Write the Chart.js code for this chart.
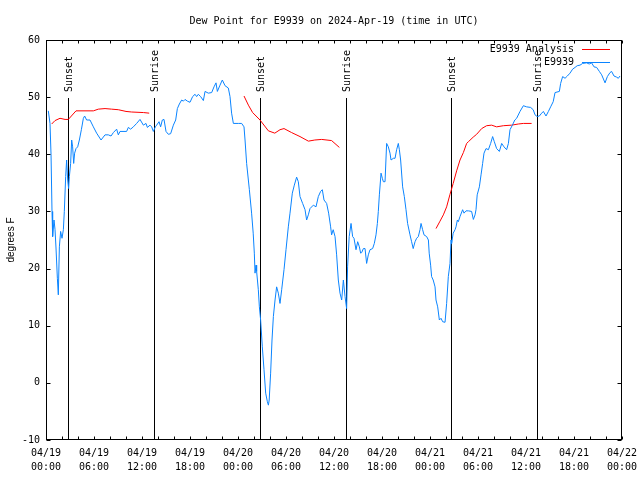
<!DOCTYPE html>
<html>
<head>
<meta charset="utf-8">
<script src="https://cdn.jsdelivr.net/npm/chart.js@4/dist/chart.umd.min.js"></script>
<style>html,body{margin:0;padding:0;background:#fff}</style>
</head>
<body>
<canvas id="chart" width="640" height="480"></canvas>
<script>
const MONO = 'DejaVu Sans Mono';

// tick labels every 6 hours (x = hours since 04/19 00:00 UTC)
const dayLabels  = ['04/19','04/19','04/19','04/19','04/20','04/20','04/20','04/20','04/21','04/21','04/21','04/21','04/22'];
const hourLabels = ['00:00','06:00','12:00','18:00','00:00','06:00','12:00','18:00','00:00','06:00','12:00','18:00','00:00'];

// sunset / sunrise markers (hours)
const sunTimes  = [2.79, 13.54, 26.75, 37.54, 50.63, 61.42];
const sunLabels = ['Sunset','Sunrise','Sunset','Sunrise','Sunset','Sunrise'];

// E9939 observations
const obsTimes = [0.29,0.5,0.63,0.75,0.83,1.0,1.13,1.25,1.42,1.54,1.67,1.83,2.0,2.17,2.29,2.46,2.58,2.71,2.83,2.92,
  3.08,3.21,3.33,3.46,3.58,3.75,3.96,4.17,4.42,4.67,4.83,5.08,5.5,5.92,6.33,6.88,7.38,7.79,8.13,8.42,8.83,9.04,9.25,
  10.08,10.29,10.58,10.92,11.33,11.75,12.17,12.5,12.67,13.0,13.21,13.42,13.67,13.83,14.13,14.33,14.54,14.75,15.0,15.29,
  15.58,15.92,16.21,16.42,16.67,16.96,17.17,17.38,17.67,18.0,18.33,18.63,18.83,19.04,19.33,19.67,19.88,20.29,20.71,21.0,
  21.25,21.42,21.75,22.04,22.38,22.79,23.0,23.2,23.42,24.04,24.46,24.75,24.88,25.08,25.42,25.7,25.9,26.04,26.13,26.25,
  26.33,26.54,26.67,26.83,27.04,27.25,27.46,27.67,27.8,27.9,28.08,28.25,28.42,28.63,28.83,29.04,29.25,29.46,29.75,30.0,
  30.29,30.5,30.79,31.04,31.33,31.54,31.75,32.08,32.38,32.58,32.79,33.0,33.42,33.75,34.04,34.33,34.54,34.75,35.08,35.33,
  35.58,35.7,35.9,36.13,36.33,36.54,36.75,36.96,37.17,37.38,37.58,37.7,37.9,38.13,38.33,38.5,38.75,38.96,39.17,39.33,
  39.46,39.67,39.88,40.08,40.29,40.5,40.83,41.04,41.25,41.42,41.54,41.67,41.88,42.04,42.17,42.38,42.58,42.79,43.0,43.13,
  43.42,43.63,43.83,44.04,44.17,44.33,44.58,44.79,45.0,45.2,45.5,45.7,45.9,46.13,46.33,46.54,46.75,46.88,47.08,47.25,
  47.58,47.8,47.9,48.08,48.2,48.4,48.63,48.75,48.96,49.17,49.38,49.58,49.88,50.08,50.29,50.5,50.63,50.7,50.9,51.13,51.25,
  51.42,51.54,51.75,52.08,52.25,52.5,52.8,53.2,53.42,53.63,53.75,53.9,54.17,54.38,54.58,54.75,55.0,55.3,55.58,55.83,
  56.04,56.33,56.67,56.96,57.25,57.58,57.8,58.0,58.3,58.6,58.83,59.25,59.67,60.08,60.58,60.9,61.13,61.4,61.67,61.96,
  62.17,62.5,62.8,63.08,63.4,63.63,64.17,64.33,64.58,64.88,65.17,65.5,65.83,66.13,66.4,66.75,67.08,67.58,67.9,68.2,
  68.5,68.83,69.17,69.46,69.88,70.17,70.5,70.7,71.0,71.33,71.54,71.75];
const obsValues = [47.6,45.4,39.9,30,25.6,28.5,26.8,23.6,18.3,15.4,23.8,26.5,25.3,26.8,30,36.1,39,35.5,34,36.1,
  38.4,42.5,41.3,38.4,40.2,41,41.3,42.5,44.3,46.3,46.7,46,46,44.8,43.7,42.5,43.4,43.4,43.2,43.8,44.4,43.4,44,
  44,44.7,44.4,44.8,45.4,46.1,45.1,45.4,44.7,45.1,44.8,44,44.8,45.1,45.7,44.8,46,46.1,44,43.5,
  43.6,45.1,46,48,48.8,49.5,49.3,49.6,49.3,49.1,50.1,50.5,50.1,50.5,50.1,49.4,51,50.7,50.8,51.8,
  52.5,51,52.1,53,52,51.6,50.1,47.2,45.4,45.4,45.4,44.8,42.5,38.4,33.8,29.7,26.2,22.7,19.2,20.6,
  19.5,16.3,13.3,11,6.3,2.3,-1.8,-3.3,-3.9,-3,1.7,7.5,11.6,14.5,16.8,15.7,13.9,16.3,19.8,23.3,
  27.3,29.7,33.2,34.6,36,35.2,32.6,31.4,30.3,28.5,29.4,30.5,31.1,30.8,32.6,33.5,33.8,32,31.4,29.7,
  27.3,25.9,26.8,25.6,22.4,18,15.7,14.5,18,15.1,13,20.3,25.6,27.9,25.6,25.3,23.3,24.7,23.8,22.7,
  22.8,23.5,23.5,20.9,22.4,23.3,23.5,24.4,25.9,27.9,30,32.9,36.7,35.8,35.2,35.2,41.9,41.3,40.2,39,
  39.3,39.3,40.8,41.9,40.8,39,34.3,32.6,30.3,27.9,25.9,24.7,23.5,24.7,25.3,25.6,26.8,27.9,26.8,25.9,
  25.6,25,22.7,20.6,18.6,18,16.8,14.5,13.3,11,11.3,10.7,10.6,13.9,18.6,20.9,25,24.4,26.2,26.8,27.3,
  28.5,28.2,29.1,30.3,29.7,30.1,30.1,30,28.6,29.4,30.3,32.9,34.3,36.4,38.4,40.2,41,40.8,41.9,43.1,
  42.2,41,40.5,41.9,41.3,40.8,41.9,44.3,45.1,46,46.3,47.5,48.5,48.3,48.2,47.8,46.9,46.6,46.7,47.2,
  47.5,46.7,47.5,48.3,49.2,50.8,51,52.4,53.6,53.3,53.7,54.2,54.9,55.2,55.5,55.6,55.9,56,55.8,56,
  55.3,55.2,54.5,53.9,52.5,53.6,54.3,54.5,53.7,53.5,53.3,53.7];

// E9939 Analysis (null = gap between runs)
const anaTimes = [0.71,1.13,1.75,2.38,2.79,3.75,5.92,6.54,7.38,8.2,9.04,10.0,10.7,12.2,12.9,
  18,
  24.75,25.3,25.83,26.75,27.8,28.6,29.25,29.75,30.7,31.75,32.8,33.6,34.46,35.7,36.67,
  42,
  48.75,49.25,49.67,50.08,50.5,50.9,51.33,51.75,52.17,52.58,52.8,53.4,53.83,54.46,55.08,55.7,56.33,57.17,58.2,59.04,59.67,60.7];
const anaValues = [45.3,45.9,46.3,46.1,46.1,47.6,47.6,47.9,48,47.9,47.8,47.5,47.4,47.3,47.2,
  null,
  50.2,48.6,47.3,46,44.1,43.7,44.3,44.5,43.8,43.1,42.3,42.5,42.6,42.4,41.2,
  null,
  27,28.3,29.4,30.8,33,34.9,37.1,39,40.3,41.9,42.2,43,43.5,44.5,45,45.1,44.8,45,45.1,45.3,45.4,45.4];

const toPts = (ts, vs) => ts.map((t, i) => ({x: t, y: vs[i]}));

const gnuDecor = {
  id: 'gnuDecor',
  beforeDatasetsDraw(chart) {
    const {ctx, chartArea: a, scales: {x}} = chart;
    ctx.save();
    ctx.strokeStyle = '#000'; ctx.fillStyle = '#000'; ctx.lineWidth = 1;
    ctx.font = '10px ' + MONO;
    sunTimes.forEach((t, i) => {
      const px = Math.round(x.getPixelForValue(t)) + 0.5;
      ctx.beginPath(); ctx.moveTo(px, a.top + 58); ctx.lineTo(px, a.bottom); ctx.stroke();
      ctx.save();
      ctx.translate(px + 1, a.top + 52);
      ctx.rotate(-Math.PI / 2);
      ctx.textAlign = 'left'; ctx.textBaseline = 'middle';
      ctx.fillText(sunLabels[i], 0, 0);
      ctx.restore();
    });
    ctx.restore();
  },
  afterDatasetsDraw(chart) {
    const {ctx, chartArea: a, scales: {x, y}} = chart;
    ctx.save();
    ctx.strokeStyle = '#000'; ctx.lineWidth = 1;
    const L = Math.round(a.left) + 0.5, R = Math.round(a.right) - 0.5;
    const T = Math.round(a.top) + 0.5, B = Math.round(a.bottom) - 0.5;
    ctx.beginPath();
    x.ticks.forEach(tk => {
      const px = Math.round(x.getPixelForValue(tk.value)) + 0.5;
      ctx.moveTo(px, B); ctx.lineTo(px, B - 3);
      ctx.moveTo(px, T); ctx.lineTo(px, T + 3);
    });
    y.ticks.forEach(tk => {
      const py = Math.round(y.getPixelForValue(tk.value)) + 0.5;
      ctx.moveTo(L, py); ctx.lineTo(L + 4, py);
      ctx.moveTo(R, py); ctx.lineTo(R - 4, py);
    });
    ctx.stroke();
    ctx.strokeRect(L, T, R - L, B - T);

    // legend, gnuplot style: text then line sample
    ctx.font = '10px ' + MONO;
    ctx.textAlign = 'right'; ctx.textBaseline = 'middle';
    chart.data.datasets.slice().sort((p, q) => q.order - p.order).forEach((ds, i) => {
      const ly = a.top + 9.5 + i * 13;
      ctx.fillStyle = '#000';
      ctx.fillText(ds.label, a.right - 48, ly);
      ctx.strokeStyle = ds.borderColor;
      ctx.beginPath(); ctx.moveTo(a.right - 40, ly); ctx.lineTo(a.right - 12, ly); ctx.stroke();
    });
    ctx.restore();
  }
};

new Chart(document.getElementById('chart'), {
  type: 'line',
  data: {
    datasets: [
      {label: 'E9939 Analysis', data: toPts(anaTimes, anaValues), borderColor: '#ff0000', borderWidth: 1,
       pointRadius: 0, spanGaps: false, tension: 0, order: 1},
      {label: 'E9939', data: toPts(obsTimes, obsValues), borderColor: '#0a84ff', borderWidth: 1,
       pointRadius: 0, tension: 0, order: 0}
    ]
  },
  options: {
    responsive: false,
    animation: false,
    layout: {padding: {top: 0, right: 18, bottom: 0, left: 0}},
    plugins: {
      legend: {display: false},
      tooltip: {enabled: false},
      title: {
        display: true, fullSize: false,
        text: 'Dew Point for E9939 on 2024-Apr-19 (time in UTC)',
        color: '#000', font: {family: MONO, size: 10, weight: 'normal'},
        padding: {top: 15, bottom: 13}
      }
    },
    scales: {
      x: {
        type: 'linear', min: 0, max: 72,
        grid: {display: false, drawTicks: false},
        border: {display: false},
        afterFit: s => { s.height = 40; s.paddingRight = 0; s.paddingLeft = 0; },
        ticks: {
          stepSize: 2, autoSkip: false, maxRotation: 0, padding: 6,
          color: '#000', font: {family: MONO, size: 10, lineHeight: 1.4},
          callback: v => {
            const h = Math.round(v);
            return h % 6 === 0 ? [dayLabels[h / 6], hourLabels[h / 6]] : '';
          }
        }
      },
      y: {
        min: -10, max: 60,
        grid: {display: false, drawTicks: false},
        border: {display: false},
        afterFit: s => { s.width = 46; },
        ticks: {stepSize: 10, padding: 6, color: '#000', font: {family: MONO, size: 10}},
        title: {display: true, text: 'degrees F', color: '#000',
                font: {family: 'Liberation Sans', size: 10}, padding: {top: 5, bottom: 0}}
      }
    }
  },
  plugins: [gnuDecor]
});
</script>
</body>
</html>
